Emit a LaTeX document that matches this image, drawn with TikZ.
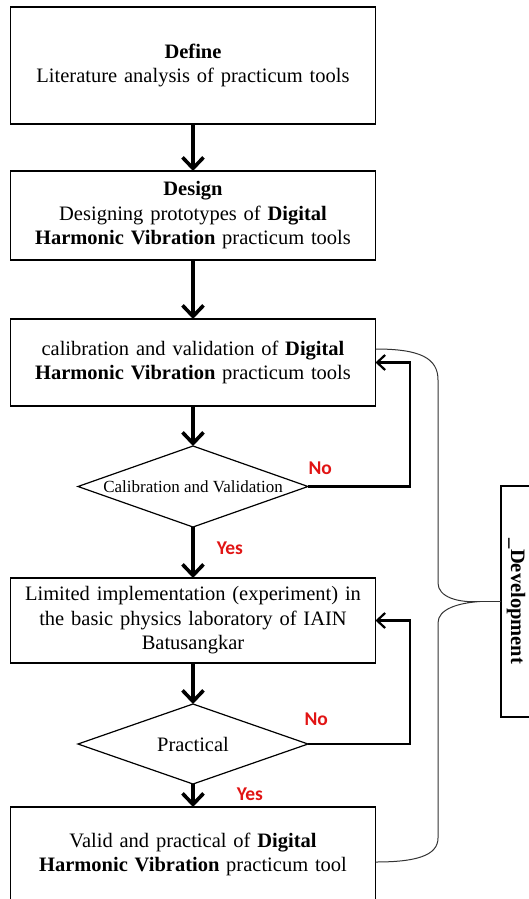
\documentclass[tikz,border=0pt]{standalone}
\usepackage{fontspec}
\setmainfont{Liberation Serif}
\newfontfamily\answerfont{Carlito}
\usepackage{xcolor}
\usetikzlibrary{positioning,shapes.geometric,arrows.meta}
\definecolor{answerred}{RGB}{225,20,20}

\tikzset{
  stage/.style={rectangle, draw, line width=1.2pt, text width=365pt, inner sep=0pt, outer sep=0pt, align=center, font=\fontsize{20.5}{24.5}\selectfont},
  check/.style={diamond, draw, line width=1.2pt, minimum width=230pt, inner sep=0pt, outer sep=0pt},
  flow/.style={line width=3.6pt, -{Straight Barb[length=11pt,width=21pt]}},
  retry/.style={line width=2.2pt, -{Straight Barb[length=8pt,width=15pt]}},
  answer/.style={text=answerred, font=\answerfont\bfseries\fontsize{19.5}{19.5}\selectfont, inner sep=0pt},
  brace/.style={line width=1pt, draw=black!80},
}

\begin{document}
\begin{tikzpicture}[x=1pt,y=-1pt]
    \useasboundingbox (0,0) rectangle (529,899);
    \clip (0,0) rectangle (529,899);

    \node (define) [stage, minimum height=117pt] at (193,65.5) {\textbf{Define}\\ Literature analysis of practicum tools};
    \node (design) [stage, minimum height=89pt, below=47pt of define] {\textbf{Design}\\ Designing prototypes of \textbf{Digital}\\ \textbf{Harmonic Vibration} practicum tools};
    \node (calib) [stage, minimum height=87pt, below=59pt of design] {calibration and validation of \textbf{Digital}\\ \textbf{Harmonic Vibration} practicum tools};
    \node (valcheck) [check, minimum height=81pt, below=40pt of calib, font=\fontsize{17}{17}\selectfont] {\makebox[0pt]{Calibration and Validation}};
    \node (trial) [stage, minimum height=85pt, below=51pt of valcheck] {Limited implementation (experiment) in\\ the basic physics laboratory of IAIN\\ Batusangkar};
    \node (praccheck) [check, minimum height=80pt, below=41pt of trial, font=\fontsize{20.5}{20.5}\selectfont] {\makebox[0pt]{Practical}};
    \node (valid) [stage, minimum height=95pt, below=23pt of praccheck] {Valid and practical of \textbf{Digital}\\ \textbf{Harmonic Vibration} practicum tool};
    \node (dev) [draw, line width=1.2pt, minimum width=30pt, minimum height=231pt, inner sep=0pt, outer sep=0pt, font=\fontsize{20.5}{20.5}\selectfont\bfseries] at (516,601.5) {\rotatebox{-90}{\_Development}};
    \coordinate (tip) at ([xshift=-21pt]dev.west);

    \draw [flow] (define) -- (design);
    \draw [flow] (design) -- (calib);
    \draw [flow] (calib) -- (valcheck);
    \draw [flow] (valcheck) -- node [answer, right=22pt, pos=0.41] {Yes} (trial);
    \draw [flow] (trial) -- (praccheck);
    \draw [flow] (praccheck) -- node [answer, right=42pt, pos=0.43] {Yes} (valid);

    \draw [retry] (valcheck.east) -- node [answer, above=11pt, pos=0.12] {No} ++(102,0) |- (calib.east);
    \draw [retry] (praccheck.east) -- node [answer, above=17pt, pos=0.08] {No} ++(102,0) |- (trial.east);

    \draw [brace] ([yshift=13.5pt]calib.east) .. controls (420,349) and (438,358) .. (438,380) -- (438,583)
        .. controls (438,597) and (458,603) .. (tip) .. controls (458,603) and (438,609) .. (438,623)
        -- (438,838) .. controls (438,856) and (415,862) .. ([yshift=-7.5pt]valid.east);
    \draw [brace] (tip) -- (dev.west);
\end{tikzpicture}
\end{document}
